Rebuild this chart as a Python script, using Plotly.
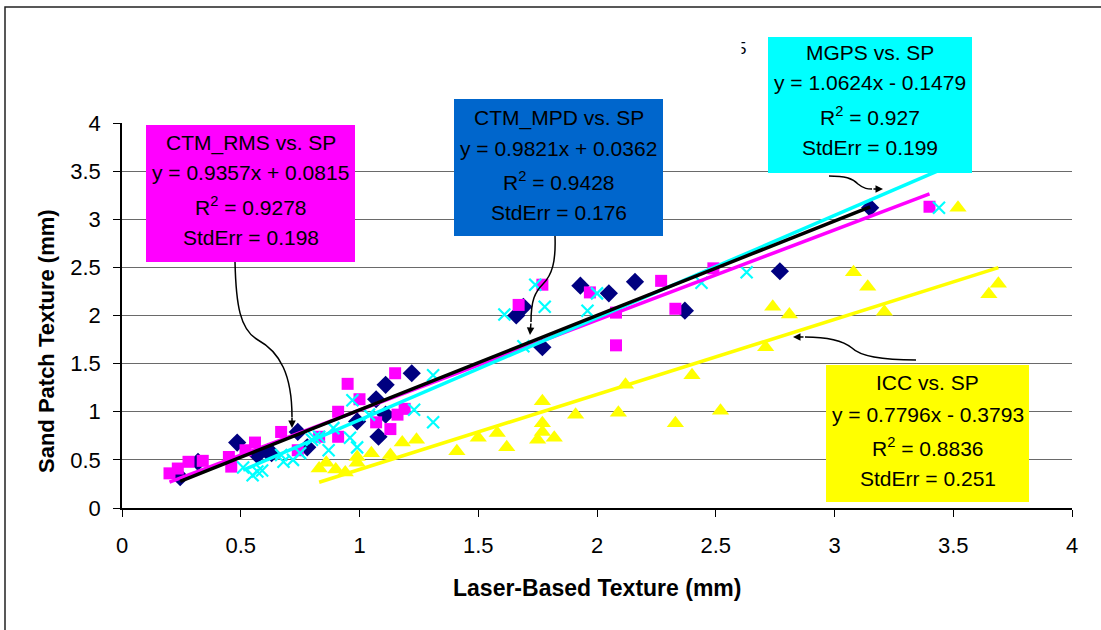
import plotly.graph_objects as go

# ---------------- data ----------------
mpd_x = [0.245, 0.32, 0.485, 0.57, 0.615, 0.63, 0.74, 0.78, 0.99, 1.07, 1.08, 1.11, 1.11, 1.22,
         1.66, 1.69, 1.77, 1.93, 2.05, 2.16, 2.37, 2.77, 3.15]
mpd_y = [0.32, 0.48, 0.68, 0.55, 0.58, 0.57, 0.79, 0.63, 0.90, 1.13, 0.74, 0.97, 1.28, 1.40,
         2.00, 2.09, 1.67, 2.31, 2.23, 2.35, 2.05, 2.46, 3.12]

rms_x = [0.20, 0.235, 0.28, 0.34, 0.45, 0.46, 0.52, 0.56, 0.67, 0.74, 0.83, 0.91, 0.91, 0.95,
         1.00, 1.07, 1.13, 1.15, 1.16, 1.19, 1.67, 1.77, 1.97, 2.08, 2.08, 2.27, 2.33, 2.49, 3.40]
rms_y = [0.36, 0.41, 0.48, 0.49, 0.53, 0.43, 0.60, 0.68, 0.79, 0.60, 0.74, 1.00, 0.74, 1.29,
         1.13, 0.89, 0.82, 1.40, 0.97, 1.03, 2.11, 2.32, 2.24, 2.03, 1.69, 2.36, 2.07, 2.49, 3.13]

mgps_x = [0.51, 0.55, 0.57, 0.59, 0.67, 0.68, 0.72, 0.75, 0.80, 0.81, 0.83, 0.87, 0.89, 0.96,
          0.97, 0.99, 1.04, 1.23, 1.31, 1.31, 1.61, 1.69, 1.74, 1.78, 1.96, 2.00, 2.44, 2.63, 3.44]
mgps_y = [0.42, 0.34, 0.38, 0.39, 0.55, 0.48, 0.50, 0.57, 0.71, 0.73, 0.74, 0.60, 0.83, 0.73,
          1.12, 0.63, 0.97, 1.02, 1.38, 0.89, 2.01, 1.68, 2.32, 2.09, 2.05, 2.23, 2.34, 2.45, 3.12]

icc_x = [0.83, 0.86, 0.90, 0.94, 0.99, 0.99, 1.05, 1.13, 1.18, 1.24, 1.41, 1.50, 1.58, 1.62,
         1.75, 1.77, 1.77, 1.77, 1.82, 1.91, 2.09, 2.12, 2.33, 2.40, 2.52, 2.71, 2.74, 2.81,
         3.08, 3.14, 3.21, 3.52, 3.65, 3.69]
icc_y = [0.41, 0.47, 0.40, 0.37, 0.53, 0.47, 0.57, 0.55, 0.68, 0.71, 0.59, 0.73, 0.78, 0.63,
         0.71, 0.79, 0.88, 1.11, 0.73, 0.97, 0.99, 1.28, 0.88, 1.38, 1.01, 1.67, 2.09, 2.01,
         2.45, 2.30, 2.04, 3.12, 2.22, 2.33]

series_names = ["CTM_MPD", "CTM_RMS", "MGPS", "ICC"]
fit_slope = [0.9821, 0.9357, 1.0624, 0.7796]
fit_icpt = [0.0362, 0.0815, -0.1479, -0.3793]
fit_r2 = ["0.9428", "0.9278", "0.927", "0.8836"]
fit_stderr = ["0.176", "0.198", "0.199", "0.251"]

tick_vals = [0, 0.5, 1, 1.5, 2, 2.5, 3, 3.5, 4]
tick_text = ["0", "0.5", "1", "1.5", "2", "2.5", "3", "3.5", "4"]

# ---------------- layout geometry (pixels) ----------------
W, H = 1101, 630
ML, MR, MT, MB = 122, 29, 123, 122
PW, PH = W - ML - MR, H - MT - MB
FONT = "Liberation Sans, Arial, sans-serif"


def fx(p):
    return (p - ML) / PW


def fy(p):
    return (H - MB - p) / PH


fig = go.Figure()

# scatter markers
fig.add_trace(go.Scatter(x=mpd_x, y=mpd_y, mode="markers", name=series_names[0],
                         marker=dict(symbol="diamond", size=14, color="#000080")))
fig.add_trace(go.Scatter(x=rms_x, y=rms_y, mode="markers", name=series_names[1],
                         marker=dict(symbol="square", size=12, color="#FF00FF")))
fig.add_trace(go.Scatter(x=mgps_x, y=mgps_y, mode="markers", name=series_names[2],
                         marker=dict(symbol="x-thin", size=12, color="#00FFFF",
                                     line=dict(color="#00FFFF", width=2.2))))
fig.add_trace(go.Scatter(x=icc_x, y=icc_y, mode="markers", name=series_names[3],
                         marker=dict(symbol="triangle-up", size=15, color="#FFFF00")))


# linear trendlines over each series' x-range
def trend(xs, k):
    x0, x1 = min(xs), max(xs)
    return [x0, x1], [fit_slope[k] * x0 + fit_icpt[k], fit_slope[k] * x1 + fit_icpt[k]]


for xs, k, col in [(icc_x, 3, "#FFFF00"), (rms_x, 1, "#FF00FF"),
                   (mgps_x, 2, "#00FFFF"), (mpd_x, 0, "#000000")]:
    tx, ty = trend(xs, k)
    fig.add_trace(go.Scatter(x=tx, y=ty, mode="lines", line=dict(color=col, width=3.5),
                             showlegend=False, hoverinfo="skip"))


def eq_text(k):
    sign = "+" if fit_icpt[k] >= 0 else "-"
    return f"y = {fit_slope[k]:.4f}x {sign} {abs(fit_icpt[k]):.4f}"


# label boxes: (series index, fill, left, top, right, bottom, line centres)
boxes = [
    (1, "#FF00FF", 146, 125, 355, 262, [143, 172, 206, 237]),
    (0, "#0066CC", 454, 99, 663, 236, [118, 148, 181, 212]),
    (2, "#00FFFF", 768, 37, 972, 173, [52, 82, 116, 147]),
    (3, "#FFFF00", 826, 365, 1029, 502, [382, 414, 447, 478]),
]

shapes = []
annotations = []

# outer chart border
shapes.append(dict(type="rect", xref="paper", yref="paper", x0=fx(5), x1=fx(1120),
                   y0=fy(650), y1=fy(7), line=dict(color="#222222", width=1.5),
                   fillcolor="rgba(0,0,0,0)", layer="below"))

# partly hidden label fragment left of the MGPS box (left part masked in white)
annotations.append(dict(text="5", xref="paper", yref="paper", x=fx(741), y=fy(48),
                        xanchor="center", yanchor="middle", showarrow=False,
                        font=dict(family=FONT, size=17, color="#000000")))
annotations.append(dict(text=".", xref="paper", yref="paper", x=fx(742), y=fy(48),
                        xanchor="right", yanchor="middle", showarrow=False, width=12, height=24,
                        bgcolor="#FFFFFF", borderpad=0,
                        font=dict(family=FONT, size=12, color="#FFFFFF")))

for k, fill, l, t, r, b, ys in boxes:
    shapes.append(dict(type="rect", xref="paper", yref="paper", x0=fx(l), x1=fx(r),
                       y0=fy(b), y1=fy(t), line=dict(width=0), fillcolor=fill, layer="above"))
    lines = [f"{series_names[k]} vs. SP", eq_text(k),
             f"R<sup>2</sup> = {fit_r2[k]}", f"StdErr = {fit_stderr[k]}"]
    cx = (l + r) / 2
    for txt, yy in zip(lines, ys):
        annotations.append(dict(text=txt, xref="paper", yref="paper", x=fx(cx), y=fy(yy),
                                xanchor="center", yanchor="middle", showarrow=False,
                                font=dict(family=FONT, size=21, color="#000000")))


# curved callout connectors
def path_from(cmds):
    out = []
    for c in cmds:
        op, pts = c[0], c[1:]
        out.append(op + " " + " ".join(f"{fx(a):.5f},{fy(bb):.5f}" for a, bb in pts))
    return " ".join(out)


callouts = [
    ([("M", (235, 262)), ("C", (236, 305), (240, 330), (258, 340)),
      ("C", (280, 352), (292, 375), (292, 417))], (292, 428), (0, -12)),
    ([("M", (555, 236)), ("C", (556, 262), (552, 275), (543, 284)),
      ("C", (535, 292), (531, 300), (531, 322))], (530, 335), (1, -13)),
    ([("M", (829, 176)), ("C", (845, 176), (852, 178), (858, 184)),
      ("C", (864, 189), (868, 189), (872, 189))], (883, 189), (-11, 0)),
    ([("M", (916, 360)), ("C", (880, 360), (860, 356), (852, 348)),
      ("C", (842, 340), (825, 337), (805, 337))], (793, 337), (12, 0)),
]
for cmds, head, off in callouts:
    shapes.append(dict(type="path", xref="paper", yref="paper", path=path_from(cmds),
                       line=dict(color="#000000", width=1.5), layer="above"))
    annotations.append(dict(text="", xref="paper", yref="paper", x=fx(head[0]), y=fy(head[1]),
                            ax=off[0], ay=off[1], showarrow=True, arrowhead=2, arrowsize=1,
                            arrowwidth=1.5, arrowcolor="#000000", standoff=0))

# axis titles
annotations.append(dict(text="<b>Laser-Based Texture (mm)</b>", xref="paper", yref="paper",
                        x=fx(597), y=fy(588), xanchor="center", yanchor="middle",
                        showarrow=False, font=dict(family=FONT, size=23, color="#000000")))
annotations.append(dict(text="<b>Sand Patch Texture (mm)</b>", xref="paper", yref="paper",
                        x=fx(46), y=fy(341), xanchor="center", yanchor="middle", textangle=-90,
                        showarrow=False, font=dict(family=FONT, size=22, color="#000000")))

fig.update_layout(
    width=W, height=H,
    margin=dict(l=ML, r=MR, t=MT, b=MB, pad=0),
    paper_bgcolor="#FFFFFF", plot_bgcolor="#FFFFFF",
    showlegend=False,
    shapes=shapes, annotations=annotations,
    font=dict(family=FONT, size=21, color="#000000"),
    xaxis=dict(range=[0, 4], tickvals=tick_vals, ticktext=tick_text, showgrid=False,
               zeroline=False, showline=True, linecolor="#000000", linewidth=1.5,
               ticks="outside", ticklen=7, tickcolor="#000000", tickwidth=1,
               ticklabelstandoff=10, tickfont=dict(family=FONT, size=22, color="#000000")),
    yaxis=dict(range=[0, 4], tickvals=tick_vals, ticktext=tick_text, showgrid=True,
               gridcolor="#6a6a6a", gridwidth=1, zeroline=False, showline=True,
               linecolor="#000000", linewidth=1.5, ticks="outside", ticklen=7,
               tickcolor="#000000", tickwidth=1, ticklabelstandoff=8,
               tickfont=dict(family=FONT, size=22, color="#000000")),
)

fig.write_html("out.html")
